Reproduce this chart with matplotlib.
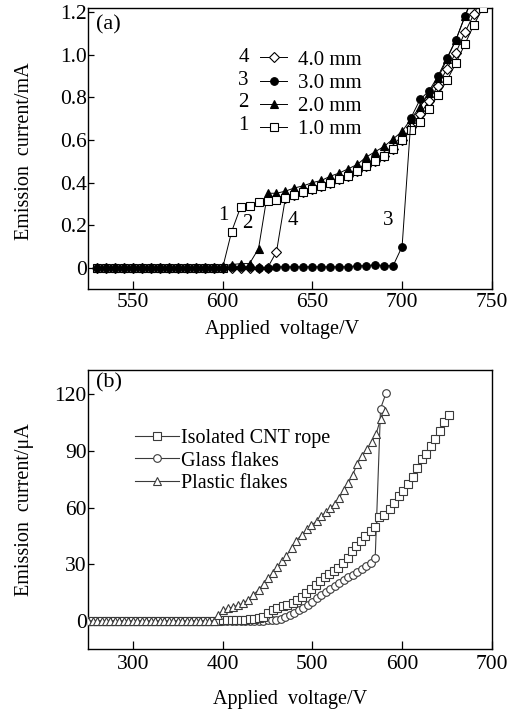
import matplotlib
matplotlib.use("Agg")
import matplotlib.pyplot as plt

plt.rcParams['font.family'] = ['Liberation Serif', 'DejaVu Serif']

# --- panel (a): emission current vs voltage for four gaps ---
volt_a = [530, 535, 540, 545, 550, 555, 560, 565, 570, 575, 580, 585, 590, 595,
          600, 605, 610, 615, 620, 625, 630, 635, 640, 645, 650, 655, 660, 665,
          670, 675, 680, 685, 690, 695, 700, 705, 710, 715, 720, 725, 730, 735,
          740, 745]
gap_1mm = [0, 0, 0, 0, 0, 0, 0, 0, 0, 0, 0, 0, 0, 0,
           0, 0.17, 0.285, 0.29, 0.31, 0.315, 0.32, 0.33, 0.34, 0.355, 0.37, 0.385, 0.40, 0.415,
           0.43, 0.455, 0.48, 0.50, 0.525, 0.56, 0.60, 0.645, 0.685, 0.745, 0.81, 0.88, 0.96, 1.05,
           1.14, 1.22]
gap_2mm = [0, 0, 0, 0, 0, 0, 0, 0, 0, 0, 0, 0, 0, 0,
           0.01, 0.015, 0.02, 0.02, 0.09, 0.35, 0.35, 0.36, 0.375, 0.385, 0.40, 0.41, 0.43, 0.445,
           0.465, 0.485, 0.52, 0.545, 0.57, 0.605, 0.64, 0.70, 0.755, 0.82, 0.89, 0.98, 1.07, 1.18,
           1.28, 1.38]
gap_3mm = [0, 0, 0, 0, 0, 0, 0, 0, 0, 0, 0, 0, 0, 0,
           0, 0.005, 0.005, 0.005, 0, 0, 0.005, 0.005, 0.005, 0.005, 0.005, 0.005, 0.005, 0.005,
           0.005, 0.01, 0.01, 0.015, 0.01, 0.01, 0.10, 0.705, 0.79, 0.83, 0.90, 0.985, 1.07, 1.18,
           1.29, 1.40]
gap_4mm = [0, 0, 0, 0, 0, 0, 0, 0, 0, 0, 0, 0, 0, 0,
           0, 0, 0, 0, 0, 0, 0.075, 0.33, 0.34, 0.355, 0.37, 0.385, 0.40, 0.415,
           0.43, 0.455, 0.48, 0.50, 0.525, 0.56, 0.60, 0.66, 0.72, 0.785, 0.855, 0.935, 1.01, 1.105,
           1.19, 1.28]
a_xticks = [550, 600, 650, 700, 750]
a_yticks = [0, 0.2, 0.4, 0.6, 0.8, 1.0, 1.2]
a_yticklabels = ['0', '0.2', '0.4', '0.6', '0.8', '1.0', '1.2']

# --- panel (b): three substrates ---
rope_v = [250, 255, 260, 265, 270, 275, 280, 285, 290, 295, 300, 305, 310, 315, 320,
          325, 330, 335, 340, 345, 350, 355, 360, 365, 370, 375, 380, 385, 390, 395,
          400, 405, 410, 415, 420, 425, 430, 435, 440, 445, 450, 456, 461, 467, 472,
          478, 483, 488, 493, 498, 504, 509, 514, 519, 524, 529, 534, 540, 544, 549,
          554, 559, 565, 570, 574, 580, 586, 591, 596, 601, 607, 612, 617, 622, 627,
          632, 637, 642, 647, 652]
rope_i = [0, 0, 0, 0, 0, 0, 0, 0, 0, 0, 0, 0, 0, 0, 0,
          0, 0, 0, 0, 0, 0, 0, 0, 0, 0, 0, 0, 0, 0, 0,
          0.3, 0.3, 0.3, 0.4, 0.5, 0.6, 0.8, 1.0, 1.3, 2.0, 4.0, 5.5, 6.6, 7.6, 8.6,
          9.6, 11.0, 12.8, 14.8, 16.8, 19.0, 21.0, 23.0, 24.6, 26.3, 28.2, 30.5, 33.5, 37.0, 39.7,
          42.4, 45.0, 47.6, 49.5, 55.0, 56.0, 59.0, 62.6, 66.2, 68.8, 72.3, 76.2, 80.8, 85.6, 88.6,
          92.6, 96.2, 100.6, 105.3, 109.0]
glass_v = [250, 255, 260, 265, 270, 275, 280, 285, 290, 295, 300, 305, 310, 315, 320,
           325, 330, 335, 340, 345, 350, 355, 360, 365, 370, 375, 380, 385, 390, 395,
           400, 405, 410, 415, 420, 425, 430, 435, 440, 445, 450, 455, 460, 465, 470,
           475, 480, 485, 490, 495, 500, 505, 510, 515, 520, 525, 530, 535, 540, 545,
           550, 555, 560, 565, 570, 576, 582]
glass_i = [0, 0, 0, 0, 0, 0, 0, 0, 0, 0, 0, 0, 0, 0, 0,
           0, 0, 0, 0, 0, 0, 0, 0, 0, 0, 0, 0, 0, 0, 0,
           0, 0, 0, 0, 0, 0, 0, 0, 0, 0, 0.2, 0.3, 0.5, 1.0, 1.8,
           2.8, 4.2, 5.5, 7.0, 8.5, 10.0, 12.0, 13.5, 15.0, 16.8, 18.5, 20.0, 21.5, 23.0, 24.5,
           26.0, 27.5, 29.0, 30.5, 33.0, 112.5, 120.5]
plastic_v = [250, 255, 260, 265, 270, 275, 280, 285, 290, 295, 300, 305, 310, 315, 320,
             325, 330, 335, 340, 345, 350, 355, 360, 365, 370, 375, 380, 385, 390, 395,
             400, 406, 411, 417, 423, 428, 434, 440, 446, 451, 456, 461, 466, 471, 477,
             482, 488, 494, 499, 505, 510, 515, 520, 525, 530, 535, 540, 545, 550, 555,
             561, 566, 571, 576, 581]
plastic_i = [0, 0, 0, 0, 0, 0, 0, 0, 0, 0, 0, 0, 0, 0, 0,
             0, 0, 0, 0, 0, 0, 0, 0, 0, 0, 0, 0, 0, 0, 3.0,
             5.5, 6.5, 7.3, 8.2, 9.2, 11.0, 13.5, 16.5, 19.5, 22.5, 25.5, 28.5, 31.5, 34.5, 38.5,
             42.5, 45.5, 48.5, 50.5, 53.0, 55.5, 57.5, 59.5, 62.0, 65.0, 69.5, 73.0, 77.5, 83.0, 87.5,
             91.0, 94.5, 99.0, 107.0, 111.0]
b_xticks = [300, 400, 500, 600, 700]
b_yticks = [0, 30, 60, 90, 120]

fig = plt.figure(figsize=(5.21, 7.14), dpi=100)
ax1 = fig.add_axes([0.169, 0.595, 0.775, 0.394])
ax2 = fig.add_axes([0.169, 0.091, 0.775, 0.391])

TICK_FS = 15.5
LBL_FS = 14.5


def style_axes(ax, xpad):
    for s in ax.spines.values():
        s.set_linewidth(1.0)
    ax.tick_params(axis='x', direction='in', length=6, width=0.9, labelsize=TICK_FS, pad=xpad)
    ax.tick_params(axis='y', direction='in', length=4, width=0.9, labelsize=TICK_FS, pad=1)


# panel (a)
mk = dict(markersize=5.5, markeredgecolor='black', markeredgewidth=0.8, color='black', lw=0.7)
h4, = ax1.plot(volt_a, gap_4mm, marker='D', markerfacecolor='white', zorder=2,
               **{**mk, 'markersize': 4.8})
h2, = ax1.plot(volt_a, gap_2mm, marker='^', markerfacecolor='black', zorder=3, **mk)
h1, = ax1.plot(volt_a, gap_1mm, marker='s', markerfacecolor='white', zorder=4, **mk)
h3, = ax1.plot(volt_a, gap_3mm, marker='o', markerfacecolor='black', zorder=5, **mk)

ax1.set_xlim(525, 750)
ax1.set_ylim(-0.1, 1.22)
ax1.set_xticks(a_xticks)
ax1.set_yticks(a_yticks)
ax1.set_yticklabels(a_yticklabels)
style_axes(ax1, 3)
ax1.set_xlabel('Applied  voltage/V', fontsize=LBL_FS)
ax1.set_ylabel('Emission  current/mA', fontsize=LBL_FS)
ax1.xaxis.set_label_coords(0.48, -0.11)
ax1.yaxis.set_label_coords(-0.135, 0.49)
ax1.text(0.02, 0.94, '(a)', transform=ax1.transAxes, fontsize=16, va='center')

ax1.legend([h4, h3, h2, h1], ['4.0 mm', '3.0 mm', '2.0 mm', '1.0 mm'],
           loc='upper left', bbox_to_anchor=(0.426, 0.85), frameon=False,
           fontsize=15, handlelength=1.3, handletextpad=0.5, labelspacing=0.175,
           numpoints=1, borderpad=0, borderaxespad=0)
for num, yy in zip(['4', '3', '2', '1'], [0.822, 0.741, 0.662, 0.581]):
    ax1.text(0.385, yy, num, transform=ax1.transAxes, fontsize=15, ha='center', va='center')

for num, xx, yy in [('1', 600.5, 0.245), ('2', 614, 0.21), ('4', 639, 0.22), ('3', 692, 0.22)]:
    ax1.text(xx, yy, num, fontsize=15, ha='center', va='center')

# panel (b)
gray = '#3a3a3a'
mkb = dict(markersize=5.5, markeredgecolor=gray, markeredgewidth=0.8, color=gray, lw=0.8,
           markerfacecolor='white')
g1, = ax2.plot(rope_v, rope_i, marker='s', zorder=3, **mkb)
g2, = ax2.plot(glass_v, glass_i, marker='o', zorder=2, **mkb)
g3, = ax2.plot(plastic_v, plastic_i, marker='^', zorder=4, **mkb)

ax2.set_xlim(250, 700)
ax2.set_ylim(-15, 133)
ax2.set_xticks(b_xticks)
ax2.set_yticks(b_yticks)
style_axes(ax2, 4)
ax2.set_xlabel('Applied  voltage/V', fontsize=LBL_FS)
ax2.set_ylabel('Emission  current/μA', fontsize=LBL_FS)
ax2.xaxis.set_label_coords(0.5, -0.147)
ax2.yaxis.set_label_coords(-0.135, 0.5)
ax2.text(0.02, 0.953, '(b)', transform=ax2.transAxes, fontsize=16, va='center')

ax2.legend([g1, g2, g3], ['Isolated CNT rope', 'Glass flakes', 'Plastic flakes'],
           loc='upper left', bbox_to_anchor=(0.116, 0.787), frameon=False,
           fontsize=14.5, handlelength=2.2, handletextpad=0.1, labelspacing=0.15,
           numpoints=1, borderpad=0, borderaxespad=0)

fig.savefig('out.png', dpi=100)
